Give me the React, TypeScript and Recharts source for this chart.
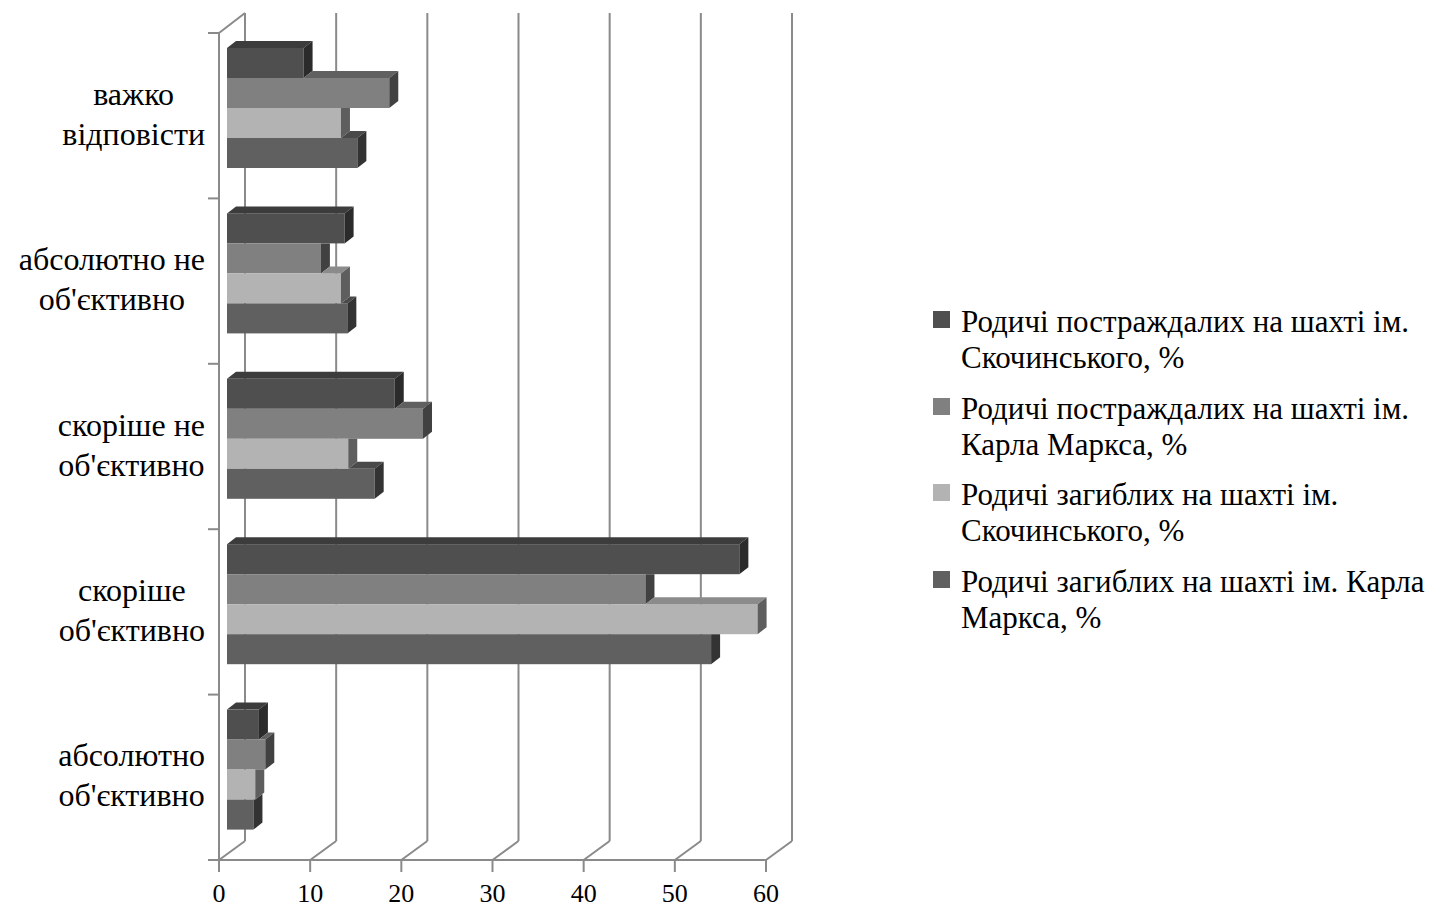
import React from "react";
import { BarChart, Bar, XAxis, YAxis, CartesianGrid, Legend } from "recharts";

const categories = [
  "важко\nвідповісти",
  "абсолютно не\nоб'єктивно",
  "скоріше не\nоб'єктивно",
  "скоріше\nоб'єктивно",
  "абсолютно\nоб'єктивно",
];

const injuredSkochinsky = [8.4, 12.9, 18.4, 56.2, 3.5];
const injuredMarx = [17.8, 10.3, 21.5, 45.9, 4.2];
const killedSkochinsky = [12.5, 12.5, 13.3, 58.2, 3.1];
const killedMarx = [14.3, 13.2, 16.2, 53.1, 2.9];

const seriesNames = [
  "Родичі постраждалих на шахті ім.\nСкочинського, %",
  "Родичі постраждалих на шахті ім.\nКарла Маркса, %",
  "Родичі загиблих на шахті ім.\nСкочинського, %",
  "Родичі загиблих на шахті ім. Карла\nМаркса, %",
];

const xTicks = [0, 10, 20, 30, 40, 50, 60];

const FONT = "'Liberation Serif', 'Times New Roman', serif";
const GRID = "#8a8a8a";

// face colours: front / top / side
const SERIES = [
  { key: "s1", name: seriesNames[0], values: injuredSkochinsky, front: "#4f4f4f", top: "#3c3c3c", side: "#2b2b2b" },
  { key: "s2", name: seriesNames[1], values: injuredMarx, front: "#808080", top: "#606060", side: "#414141" },
  { key: "s3", name: seriesNames[2], values: killedSkochinsky, front: "#b3b3b3", top: "#8b8b8b", side: "#5e5e5e" },
  { key: "s4", name: seriesNames[3], values: killedMarx, front: "#606060", top: "#4a4a4a", side: "#333333" },
];

const rows = categories.map((category, i) => {
  const row: Record<string, any> = { category };
  SERIES.forEach((s) => (row[s.key] = s.values[i]));
  return row;
});

// 3d offsets: bar front inside the box, bar depth, wall depth
const SX = 8, SY = -8, DX = 9, DY = 7;
const WX = 26, WY = 20;

function make3dBar(k: number) {
  return (props: any) => {
    const { x, y, width, height, payload } = props;
    const s = SERIES[k];
    const v = payload[s.key];
    const perUnit = v ? width / v : 0;
    const fx = x + SX;
    const fy = y + SY;
    const xe = fx + width;
    const h = height;
    // end of the bar just above: it hides part of this bar's top and side
    const ue = k > 0 ? fx + payload[SERIES[k - 1].key] * perUnit : fx;
    const u = k > 0 ? Math.min(Math.max(ue, xe), xe + DX) : xe;
    const pts = (a: number[][]) => a.map((p) => p.join(",")).join(" ");
    return (
      <g>
        <rect x={fx} y={fy} width={width} height={h} fill={s.front} />
        {xe > ue && (
          <polygon
            points={pts([[ue, fy], [ue + DX, fy - DY], [xe + DX, fy - DY], [xe, fy]])}
            fill={s.top}
          />
        )}
        <polygon
          points={pts([
            [xe, fy],
            [u, fy],
            [xe + DX, fy - ((xe + DX - u) * DY) / DX],
            [xe + DX, fy + h - DY],
            [xe, fy + h],
          ])}
          fill={s.side}
        />
      </g>
    );
  };
}

let ctx: CanvasRenderingContext2D | null = null;
function textWidth(t: string, size: number) {
  if (!ctx) ctx = document.createElement("canvas").getContext("2d");
  if (!ctx) return t.length * size * 0.45;
  ctx.font = `${size}px 'Liberation Serif'`;
  return ctx.measureText(t).width;
}

const CategoryTick = (props: any) => {
  const { x, y, payload } = props;
  const lines: string[] = String(payload.value).split("\n");
  const w = Math.max(...lines.map((l) => textWidth(l, 32)));
  const cx = x - w / 2;
  return (
    <g>
      {lines.map((l, i) => (
        <text key={i} x={cx} y={y - 11 + i * 40} textAnchor="middle" fontFamily={FONT} fontSize={32} fill="#000">
          {l}
        </text>
      ))}
    </g>
  );
};

const ValueTick = (props: any) => {
  const { x, y, payload } = props;
  return (
    <text x={x} y={y + 30} textAnchor="middle" fontFamily={FONT} fontSize={26} fill="#000">
      {payload.value}
    </text>
  );
};

const backWallLine = (props: any) => {
  const { x1, y1, y2, index } = props;
  return (
    <g key={`v-${index}`} stroke={GRID} strokeWidth={2}>
      <line x1={x1 + WX} y1={y1 - WY} x2={x1 + WX} y2={y2 - WY + 1} />
      <line x1={x1} y1={y2} x2={x1 + WX} y2={y2 - WY + 1} />
    </g>
  );
};

const sideWallLine = (props: any) => {
  const { x1, x2, y1, index } = props;
  return (
    <g key={`h-${index}`} stroke={GRID} strokeWidth={2}>
      <line x1={x1 - 11} y1={y1} x2={x1} y2={y1} />
      {index === 0 && <line x1={x1} y1={y1} x2={x1 + WX} y2={y1 - WY} />}
      {index === categories.length && <line x1={x1 - 11} y1={y1} x2={x2} y2={y1} />}
    </g>
  );
};

const renderLegend = () => (
  <div style={{ fontFamily: FONT, fontSize: 31, color: "#000" }}>
    {SERIES.map((s) => (
      <div key={s.key} style={{ position: "relative", height: 72, marginBottom: 14.5 }}>
        <div style={{ position: "absolute", left: 8, top: 7, width: 17, height: 17, background: s.front }} />
        <div style={{ position: "absolute", left: 36, top: 0, lineHeight: "36px", whiteSpace: "pre" }}>{s.name}</div>
      </div>
    ))}
  </div>
);

export default function App() {
  return (
    <div style={{ position: "absolute", left: 0, top: 0, background: "#fff" }}>
      <BarChart
        width={1434}
        height={908}
        data={rows}
        layout="vertical"
        margin={{ top: 33, right: 159, bottom: 8, left: 19 }}
        barGap={0}
        barSize={30}
      >
        <CartesianGrid
          vertical={backWallLine}
          horizontal={sideWallLine}
          horizontalCoordinatesGenerator={({ offset }: any) =>
            [...categories, ""].map((_, i) => offset.top + (i * offset.height) / categories.length)
          }
        />
        <XAxis
          type="number"
          domain={[0, 60]}
          ticks={xTicks}
          interval={0}
          axisLine={false}
          tickLine={{ stroke: GRID, strokeWidth: 2 }}
          tickSize={12}
          tickMargin={0}
          height={40}
          tick={<ValueTick />}
        />
        <YAxis
          type="category"
          dataKey="category"
          width={200}
          axisLine={{ stroke: GRID, strokeWidth: 2 }}
          tickLine={false}
          tickSize={0}
          tickMargin={14}
          interval={0}
          tick={<CategoryTick />}
        />
        <Legend
          layout="vertical"
          align="right"
          verticalAlign="middle"
          content={renderLegend}
          wrapperStyle={{ left: 925, right: "auto", top: 304, width: 509 }}
        />
        {SERIES.map((s, k) => (
          <Bar
            key={s.key}
            dataKey={s.key}
            name={s.name}
            fill={s.front}
            shape={make3dBar(k)}
            isAnimationActive={false}
          />
        ))}
      </BarChart>
    </div>
  );
}
